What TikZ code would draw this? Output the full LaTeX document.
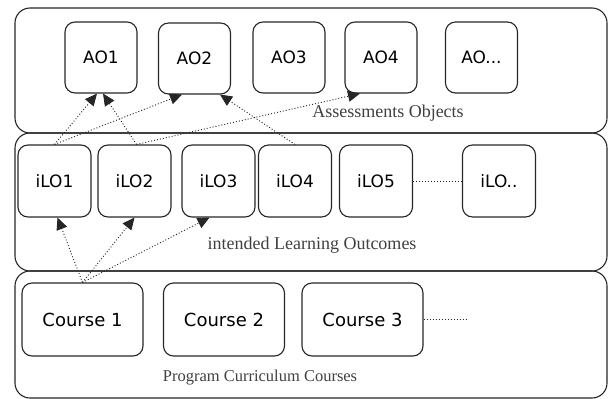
\documentclass[tikz,border=0pt]{standalone}
\usepackage{fontspec}
\setmainfont{Liberation Serif}
\setsansfont{DejaVu Sans}
\usetikzlibrary{arrows.meta}

\begin{document}
\begin{tikzpicture}[x=1pt, y=-1pt,
  layer/.style={draw=black!85, line width=1.1pt, rectangle, rounded corners=15pt,
    minimum width=592pt, inner sep=0pt},
  item/.style={draw=black!85, line width=1.1pt, rectangle, rounded corners=10pt,
    inner sep=0pt, font={\fontsize{17}{20}\sffamily}},
  caption/.style={font={\fontsize{18}{21}\selectfont}, text=black!75},
  dotline/.style={draw=black!85, line width=0.9pt, dash pattern=on 1pt off 2pt},
  link/.style={dotline, -{Triangle[length=12pt,width=11pt]}}]
\useasboundingbox (0,0) rectangle (608,399);
% the three layers
\node[layer, minimum height=125pt] (aolayer) at (311,70.5) {};
\node[layer, minimum height=138pt] (ilolayer) at (311,202) {};
\node[layer, minimum height=127pt] (courselayer) at (311,334.5) {};
% assessment objects
\node[item, minimum width=72pt, minimum height=71pt] (ao1) at (101,57.5) {AO1};
\node[item, minimum width=72pt, minimum height=71pt] (ao2) at (194.5,58.5) {AO2};
\node[item, minimum width=72pt, minimum height=71pt] (ao3) at (289,57.5) {AO3};
\node[item, minimum width=72pt, minimum height=71pt] (ao4) at (381,57.5) {AO4};
\node[item, minimum width=72pt, minimum height=71pt] (aodots) at (481.5,57.5) {AO...};
\node[caption] (aocap) at (388,113) {Assessments Objects};
% learning outcomes
\node[item, minimum width=73pt, minimum height=72pt] (ilo1) at (54.5,181) {iLO1};
\node[item, minimum width=73pt, minimum height=72pt] (ilo2) at (134.5,181) {iLO2};
\node[item, minimum width=73pt, minimum height=72pt] (ilo3) at (218.5,181) {iLO3};
\node[item, minimum width=73pt, minimum height=72pt] (ilo4) at (295,181) {iLO4};
\node[item, minimum width=73pt, minimum height=72pt] (ilo5) at (376,181) {iLO5};
\node[item, minimum width=73pt, minimum height=72pt] (ilodots) at (499,181) {iLO..};
\node[caption] (ilocap) at (312,245) {intended Learning Outcomes};
% courses
\node[item, minimum width=121pt, minimum height=73pt, font={\fontsize{18}{21}\sffamily}] (course1) at (82.5,319.5) {Course 1};
\node[item, minimum width=121pt, minimum height=73pt, font={\fontsize{18}{21}\sffamily}] (course2) at (224,319.5) {Course 2};
\node[item, minimum width=121pt, minimum height=73pt, font={\fontsize{18}{21}\sffamily}] (course3) at (362.5,319.5) {Course 3};
\node[caption, font={\fontsize{16.5}{20}\selectfont}] (coursecap) at (260,378) {Program Curriculum Courses};
\coordinate (more) at (467,319.5);
% connections
\draw[dotline] (ilo5.east) -- (ilodots.west);
\draw[dotline] (course3.east) -- (more);
\draw[link] (ilo1.north) -- ([xshift=-4pt]ao1.south);
\draw[link] (ilo1.north) -- ([xshift=-12.5pt]ao2.south);
\draw[link] ([xshift=2pt]ilo2.north) -- ([xshift=2pt]ao1.south);
\draw[link] ([xshift=2pt]ilo2.north) -- ([xshift=-21pt]ao4.south);
\draw[link] (ilo4.north) -- ([xshift=25.5pt]ao2.south);
\draw[link] (course1.north) -- ([xshift=3pt]ilo1.south);
\draw[link] (course1.north) -- (ilo2.south);
\draw[link] (course1.north) -- ([xshift=-9pt]ilo3.south);
\end{tikzpicture}
\end{document}
